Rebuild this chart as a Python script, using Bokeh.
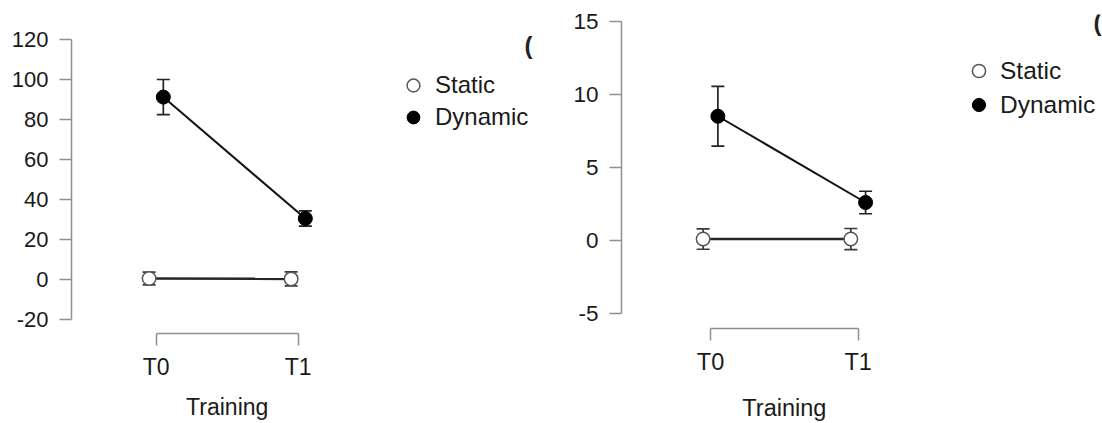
from bokeh.plotting import figure
from bokeh.models import (ColumnDataSource, Whisker, TeeHead, FixedTicker, Range1d,
                          Legend, LegendItem, Label, LinearAxis)
from bokeh.layouts import row
from bokeh.embed import file_html
from bokeh.resources import INLINE

# ---- data ----
timepoints = ["T0", "T1"]
series_names = ["Static", "Dynamic"]
x_title = "Training"

# left panel
left_static_mean = [0.5, 0.3]
left_static_err = [3.2, 3.5]
left_dynamic_mean = [91.2, 30.5]
left_dynamic_err = [8.8, 3.8]
left_yticks = [-20, 0, 20, 40, 60, 80, 100, 120]

# right panel
right_static_mean = [0.1, 0.1]
right_static_err = [0.7, 0.72]
right_dynamic_mean = [8.5, 2.6]
right_dynamic_err = [2.05, 0.77]
right_yticks = [-5, 0, 5, 10, 15]

FONT = "Liberation Sans"
AXIS_COL = "#8f8f8f"


def make_panel(static_mean, static_err, dyn_mean, dyn_err, yticks,
               y_range, x_range, borders, fonts, xlab_standoff, title_standoff,
               legend_cfg, paren_pos):
    left, right, top, bottom = borders
    p = figure(width=551, height=423, output_backend="svg", toolbar_location=None,
               title=None,
               x_range=Range1d(*x_range), y_range=Range1d(*y_range),
               min_border_left=left, min_border_right=right,
               min_border_top=top, min_border_bottom=bottom)
    try:
        p.frame_align = False
    except Exception:
        pass
    p.outline_line_color = None
    p.xgrid.visible = False
    p.ygrid.visible = False
    p.background_fill_color = "white"
    p.border_fill_color = "white"

    ytick_px, xtick_px, xlab_px, leg_px = fonts

    # y axis
    ya = p.yaxis[0]
    ya.ticker = FixedTicker(ticks=yticks)
    ya.major_label_overrides = {t: ("-" + str(-t) if t < 0 else str(t)) for t in yticks}
    ya.bounds = (min(yticks), max(yticks))
    ya.axis_line_color = AXIS_COL
    ya.axis_line_width = 1.5
    ya.major_tick_line_color = AXIS_COL
    ya.major_tick_line_width = 1.5
    ya.major_tick_out = 12
    ya.major_tick_in = 0
    ya.minor_tick_line_color = None
    ya.major_label_text_font = FONT
    ya.major_label_text_font_size = ytick_px
    ya.major_label_text_color = "#1a1a1a"
    ya.major_label_standoff = 11

    # x axis
    idx = list(range(len(timepoints)))
    xa = p.xaxis[0]
    xa.ticker = FixedTicker(ticks=idx)
    xa.major_label_overrides = {i: t for i, t in zip(idx, timepoints)}
    xa.bounds = (idx[0], idx[-1])
    xa.axis_line_color = AXIS_COL
    xa.axis_line_width = 1.5
    xa.major_tick_line_color = AXIS_COL
    xa.major_tick_line_width = 1.5
    xa.major_tick_out = 12
    xa.major_tick_in = 0
    xa.minor_tick_line_color = None
    xa.major_label_text_font = FONT
    xa.major_label_text_font_size = xtick_px
    xa.major_label_text_color = "#1a1a1a"
    xa.major_label_standoff = xlab_standoff

    # axis title: a second, line-less axis below, with one label centred between categories
    mid = (idx[0] + idx[-1]) / 2
    ta = LinearAxis(ticker=FixedTicker(ticks=[mid]),
                    major_label_overrides={mid: x_title},
                    axis_line_color=None, major_tick_line_color=None,
                    minor_tick_line_color=None, major_tick_out=0, major_tick_in=0,
                    major_label_standoff=title_standoff,
                    major_label_text_font=FONT, major_label_text_font_size=xlab_px,
                    major_label_text_color="#1a1a1a")
    p.add_layout(ta, "below")

    off = 0.05
    xs_static = [i - off for i in idx]
    xs_dyn = [i + off for i in idx]

    src_s = ColumnDataSource(dict(x=xs_static, y=static_mean,
                                  lo=[m - e for m, e in zip(static_mean, static_err)],
                                  hi=[m + e for m, e in zip(static_mean, static_err)]))
    src_d = ColumnDataSource(dict(x=xs_dyn, y=dyn_mean,
                                  lo=[m - e for m, e in zip(dyn_mean, dyn_err)],
                                  hi=[m + e for m, e in zip(dyn_mean, dyn_err)]))

    for src, col in ((src_s, "#3a3a3a"), (src_d, "#222222")):
        w = Whisker(source=src, base="x", upper="hi", lower="lo", dimension="height",
                    line_color=col, line_width=1.7, level="underlay",
                    upper_head=TeeHead(size=13, line_color=col, line_width=1.7),
                    lower_head=TeeHead(size=13, line_color=col, line_width=1.7))
        p.add_layout(w)

    p.line("x", "y", source=src_s, line_color="#262626", line_width=2.6)
    p.line("x", "y", source=src_d, line_color="#111111", line_width=2)
    r_s = p.scatter("x", "y", source=src_s, size=13.5, marker="circle",
                    fill_color="white", line_color="#555555", line_width=1.5)
    r_d = p.scatter("x", "y", source=src_d, size=14, marker="circle",
                    fill_color="black", line_color="black", line_width=1)

    gsize, standoff, spacing, loc = legend_cfg
    leg = Legend(items=[LegendItem(label=series_names[0], renderers=[r_s]),
                        LegendItem(label=series_names[1], renderers=[r_d])],
                 location=loc, orientation="vertical",
                 glyph_width=gsize, glyph_height=gsize, label_standoff=standoff,
                 spacing=spacing, padding=0, margin=0,
                 border_line_color=None, background_fill_alpha=0,
                 label_text_font=FONT, label_text_font_size=leg_px,
                 label_text_color="#1a1a1a")
    p.add_layout(leg)

    p.add_layout(Label(x=paren_pos[0], y=paren_pos[1], x_units="screen", y_units="screen",
                       text="(", text_font=FONT, text_font_size="24px",
                       text_font_style="bold", text_color="#222222",
                       text_align="left", text_baseline="middle"))
    return p


p1 = make_panel(left_static_mean, left_static_err, left_dynamic_mean, left_dynamic_err,
                left_yticks, y_range=(-27.0, 122.5), x_range=(-0.5965, 2.713),
                borders=(71, 10, 34, 90), fonts=("22px", "23px", "23px", "24px"),
                xlab_standoff=8, title_standoff=11,
                legend_cfg=(32, 6, 0, (326, 200)), paren_pos=(453, 288))

p2 = make_panel(right_static_mean, right_static_err, right_dynamic_mean, right_dynamic_err,
                right_yticks, y_range=(-6.02, 15.46), x_range=(-0.6026, 2.654),
                borders=(70, 0, 14, 95), fonts=("22.5px", "23.5px", "23.5px", "24.5px"),
                xlab_standoff=8, title_standoff=17,
                legend_cfg=(33, 5, 1, (341, 207)), paren_pos=(472, 306))

layout = row(p1, p2, spacing=0)
open("out.html", "w").write(file_html(layout, INLINE))
